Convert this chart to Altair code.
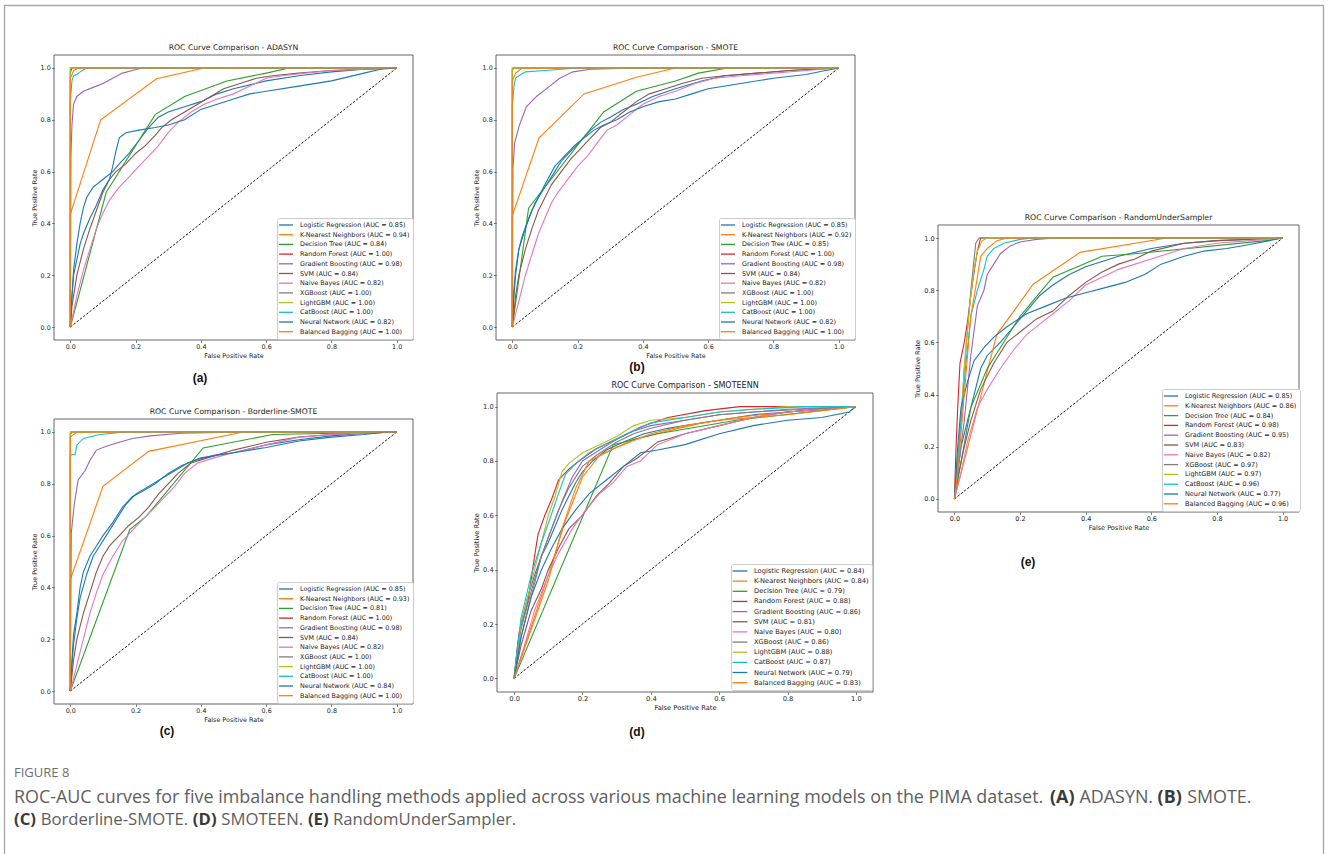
import altair as alt
import pandas as pd

# ---------------- data ----------------
MODELS = ["Logistic Regression", "K-Nearest Neighbors", "Decision Tree", "Random Forest",
          "Gradient Boosting", "SVM", "Naive Bayes", "XGBoost", "LightGBM", "CatBoost",
          "Neural Network", "Balanced Bagging"]
COLORS = ["#1f77b4", "#ff7f0e", "#2ca02c", "#d62728", "#9467bd", "#8c564b",
          "#e377c2", "#7f7f7f", "#bcbd22", "#17becf", "#1f77b4", "#ff7f0e"]

AUC_ADASYN = [0.85, 0.94, 0.84, 1.00, 0.98, 0.84, 0.82, 1.00, 1.00, 1.00, 0.82, 1.00]
AUC_SMOTE = [0.85, 0.92, 0.85, 1.00, 0.98, 0.84, 0.82, 1.00, 1.00, 1.00, 0.82, 1.00]
AUC_BORDER = [0.85, 0.93, 0.81, 1.00, 0.98, 0.84, 0.82, 1.00, 1.00, 1.00, 0.84, 1.00]
AUC_SMOTEENN = [0.84, 0.84, 0.79, 0.88, 0.86, 0.81, 0.80, 0.86, 0.88, 0.87, 0.79, 0.83]
AUC_RUS = [0.85, 0.86, 0.84, 0.98, 0.95, 0.83, 0.82, 0.97, 0.97, 0.96, 0.77, 0.96]

DIAG = [0.0, 1.0]

# (fpr, tpr) points per model, in MODELS order
CURVES_ADASYN = [
    [(0,0),(0.005,0.12),(0.01,0.22),(0.02,0.32),(0.03,0.4),(0.04,0.46),(0.05,0.5),(0.07,0.54),(0.09,0.56),(0.11,0.58),(0.13,0.6),(0.15,0.63),(0.18,0.67),(0.21,0.72),(0.24,0.77),(0.27,0.81),(0.3,0.83),(0.35,0.85),(0.4,0.87),(0.45,0.9),(0.5,0.92),(0.6,0.95),(0.7,0.97),(0.8,0.985),(0.9,0.995),(1,1)],
    [(0,0),(0,0.435),(0.093,0.80),(0.264,0.958),(0.41,1.0),(1,1)],
    [(0,0),(0.11,0.52),(0.26,0.82),(0.35,0.89),(0.48,0.95),(0.6,0.98),(0.67,1.0),(1,1)],
    [(0,0),(0,0.98),(0.005,1.0),(1,1)],
    [(0,0),(0.002,0.66),(0.005,0.78),(0.01,0.86),(0.02,0.89),(0.04,0.91),(0.07,0.925),(0.1,0.94),(0.13,0.96),(0.16,0.98),(0.19,0.99),(0.22,1.0),(1,1)],
    [(0,0),(0.005,0.08),(0.01,0.12),(0.02,0.2),(0.04,0.3),(0.06,0.38),(0.08,0.45),(0.1,0.52),(0.12,0.57),(0.14,0.6),(0.17,0.63),(0.2,0.67),(0.23,0.7),(0.26,0.74),(0.28,0.77),(0.31,0.8),(0.35,0.83),(0.39,0.86),(0.43,0.89),(0.47,0.92),(0.52,0.94),(0.57,0.96),(0.62,0.97),(0.7,0.98),(0.8,0.99),(1,1)],
    [(0,0),(0.01,0.06),(0.02,0.12),(0.04,0.22),(0.06,0.3),(0.08,0.38),(0.1,0.44),(0.12,0.49),(0.15,0.54),(0.18,0.58),(0.21,0.62),(0.24,0.66),(0.27,0.7),(0.3,0.75),(0.33,0.79),(0.37,0.83),(0.41,0.86),(0.45,0.88),(0.5,0.9),(0.55,0.93),(0.6,0.96),(0.65,0.97),(0.72,0.98),(0.8,0.99),(1,1)],
    [(0,0),(0,1.0),(1,1)],
    [(0,0),(0,1.0),(1,1)],
    [(0,0),(0,0.87),(0.005,0.95),(0.01,0.97),(0.02,0.975),(0.03,0.985),(0.05,1.0),(1,1)],
    [(0,0),(0.005,0.12),(0.01,0.2),(0.02,0.26),(0.03,0.32),(0.04,0.36),(0.06,0.42),(0.08,0.47),(0.1,0.53),(0.12,0.57),(0.13,0.62),(0.14,0.68),(0.15,0.73),(0.17,0.75),(0.21,0.76),(0.26,0.77),(0.3,0.78),(0.35,0.8),(0.4,0.84),(0.45,0.86),(0.5,0.88),(0.55,0.9),(0.6,0.91),(0.7,0.93),(0.8,0.95),(0.9,0.98),(0.95,0.995),(1,1)],
    [(0,0),(0,0.96),(0.01,0.99),(0.025,1.0),(1,1)],
]

CURVES_SMOTE = [
    [(0,0),(0.005,0.12),(0.01,0.2),(0.02,0.3),(0.03,0.35),(0.05,0.42),(0.07,0.48),(0.09,0.52),(0.11,0.56),(0.13,0.6),(0.15,0.64),(0.18,0.68),(0.21,0.72),(0.24,0.76),(0.27,0.79),(0.3,0.81),(0.34,0.84),(0.38,0.86),(0.43,0.89),(0.5,0.92),(0.58,0.95),(0.65,0.97),(0.75,0.98),(0.85,0.99),(1,1)],
    [(0,0),(0,0.43),(0.082,0.73),(0.22,0.90),(0.38,0.964),(0.5,1.0),(1,1)],
    [(0,0),(0.05,0.46),(0.28,0.83),(0.38,0.91),(0.5,0.95),(0.57,0.98),(0.66,1.0),(1,1)],
    [(0,0),(0,0.99),(0.004,1.0),(1,1)],
    [(0,0),(0.002,0.61),(0.007,0.71),(0.022,0.78),(0.043,0.85),(0.074,0.89),(0.115,0.93),(0.145,0.96),(0.186,0.985),(0.24,0.995),(0.39,1.0),(1,1)],
    [(0,0),(0.005,0.06),(0.01,0.12),(0.02,0.2),(0.04,0.3),(0.06,0.38),(0.08,0.45),(0.1,0.5),(0.12,0.55),(0.15,0.6),(0.18,0.65),(0.21,0.69),(0.24,0.73),(0.27,0.77),(0.3,0.79),(0.34,0.83),(0.38,0.87),(0.42,0.9),(0.47,0.92),(0.52,0.94),(0.58,0.96),(0.65,0.97),(0.75,0.98),(0.85,0.99),(1,1)],
    [(0,0),(0.01,0.05),(0.02,0.1),(0.04,0.2),(0.06,0.28),(0.08,0.36),(0.1,0.42),(0.12,0.48),(0.14,0.52),(0.17,0.57),(0.2,0.62),(0.23,0.66),(0.26,0.71),(0.29,0.76),(0.32,0.78),(0.36,0.82),(0.4,0.86),(0.45,0.89),(0.5,0.91),(0.56,0.94),(0.62,0.96),(0.7,0.97),(0.8,0.98),(0.9,0.99),(1,1)],
    [(0,0),(0,1.0),(1,1)],
    [(0,0),(0,1.0),(1,1)],
    [(0,0),(0,0.85),(0.005,0.93),(0.01,0.96),(0.02,0.97),(0.04,0.985),(0.1,0.99),(0.2,1.0),(1,1)],
    [(0,0),(0.005,0.15),(0.01,0.22),(0.02,0.3),(0.04,0.38),(0.06,0.45),(0.08,0.5),(0.1,0.55),(0.13,0.62),(0.16,0.66),(0.19,0.7),(0.22,0.73),(0.25,0.76),(0.28,0.78),(0.32,0.8),(0.36,0.83),(0.4,0.85),(0.45,0.87),(0.5,0.88),(0.55,0.9),(0.6,0.92),(0.7,0.94),(0.8,0.96),(0.9,0.975),(0.96,0.99),(1,1)],
    [(0,0),(0,0.95),(0.01,0.98),(0.03,1.0),(1,1)],
]

CURVES_BORDER = [
    [(0,0),(0.005,0.12),(0.01,0.22),(0.02,0.3),(0.03,0.4),(0.04,0.46),(0.06,0.52),(0.08,0.56),(0.1,0.6),(0.13,0.65),(0.16,0.71),(0.19,0.75),(0.22,0.77),(0.26,0.8),(0.3,0.84),(0.34,0.87),(0.38,0.89),(0.44,0.91),(0.5,0.92),(0.6,0.95),(0.7,0.97),(0.8,0.985),(0.9,0.995),(1,1)],
    [(0,0),(0,0.43),(0.1,0.79),(0.24,0.925),(0.53,1.0),(1,1)],
    [(0,0),(0.182,0.623),(0.233,0.675),(0.407,0.938),(0.62,0.99),(1,1)],
    [(0,0),(0,0.99),(0.005,1.0),(1,1)],
    [(0,0),(0.003,0.61),(0.012,0.72),(0.024,0.815),(0.045,0.85),(0.06,0.89),(0.08,0.93),(0.11,0.945),(0.15,0.96),(0.19,0.975),(0.245,0.985),(0.34,0.995),(0.54,1.0),(1,1)],
    [(0,0),(0.005,0.06),(0.01,0.12),(0.02,0.2),(0.04,0.3),(0.06,0.38),(0.08,0.46),(0.1,0.52),(0.12,0.56),(0.15,0.6),(0.18,0.64),(0.21,0.67),(0.24,0.71),(0.27,0.76),(0.3,0.8),(0.33,0.84),(0.37,0.88),(0.42,0.9),(0.5,0.93),(0.6,0.96),(0.7,0.98),(0.8,0.99),(1,1)],
    [(0,0),(0.01,0.05),(0.02,0.1),(0.04,0.2),(0.06,0.3),(0.08,0.38),(0.1,0.45),(0.13,0.52),(0.16,0.58),(0.19,0.62),(0.22,0.66),(0.26,0.71),(0.29,0.75),(0.32,0.79),(0.35,0.84),(0.39,0.88),(0.44,0.9),(0.5,0.92),(0.6,0.95),(0.7,0.98),(0.8,0.99),(1,1)],
    [(0,0),(0,1.0),(1,1)],
    [(0,0),(0,1.0),(1,1)],
    [(0,0),(0,0.91),(0.015,0.915),(0.02,0.95),(0.04,0.975),(0.09,0.99),(0.17,1.0),(1,1)],
    [(0,0),(0.005,0.1),(0.01,0.18),(0.02,0.28),(0.03,0.36),(0.05,0.45),(0.07,0.52),(0.09,0.56),(0.11,0.6),(0.14,0.66),(0.17,0.72),(0.2,0.76),(0.24,0.79),(0.28,0.82),(0.32,0.85),(0.36,0.88),(0.4,0.9),(0.5,0.92),(0.6,0.94),(0.7,0.965),(0.8,0.98),(0.9,0.99),(0.97,1.0),(1,1)],
    [(0,0),(0,0.98),(0.02,1.0),(1,1)],
]

CURVES_SMOTEENN = [
    [(0,0),(0.01,0.12),(0.02,0.2),(0.04,0.3),(0.06,0.38),(0.08,0.45),(0.1,0.5),(0.12,0.56),(0.14,0.62),(0.16,0.67),(0.18,0.72),(0.2,0.76),(0.23,0.8),(0.27,0.84),(0.32,0.87),(0.38,0.9),(0.45,0.92),(0.5,0.93),(0.6,0.95),(0.7,0.97),(0.8,0.98),(0.9,0.99),(1,1)],
    [(0,0),(0.1,0.38),(0.15,0.58),(0.2,0.74),(0.25,0.82),(0.35,0.88),(0.45,0.91),(0.55,0.94),(0.65,0.96),(0.8,0.98),(1,1)],
    [(0,0),(0.29,0.86),(0.42,0.9),(0.65,0.95),(1,1)],
    [(0,0),(0.015,0.17),(0.04,0.28),(0.06,0.45),(0.07,0.53),(0.09,0.6),(0.11,0.66),(0.13,0.73),(0.16,0.77),(0.19,0.8),(0.24,0.845),(0.3,0.88),(0.37,0.925),(0.45,0.96),(0.56,0.985),(0.66,1.0),(1,1)],
    [(0,0),(0.02,0.15),(0.05,0.3),(0.08,0.45),(0.11,0.55),(0.14,0.65),(0.17,0.74),(0.2,0.8),(0.25,0.84),(0.3,0.88),(0.35,0.91),(0.4,0.93),(0.5,0.95),(0.6,0.97),(0.7,0.98),(0.8,0.99),(1,1)],
    [(0,0),(0.02,0.12),(0.05,0.25),(0.08,0.33),(0.1,0.4),(0.13,0.48),(0.16,0.55),(0.2,0.6),(0.24,0.67),(0.28,0.72),(0.32,0.78),(0.36,0.81),(0.42,0.87),(0.5,0.9),(0.6,0.93),(0.7,0.96),(0.8,0.98),(1,1)],
    [(0,0),(0.03,0.12),(0.06,0.25),(0.1,0.38),(0.13,0.46),(0.17,0.55),(0.21,0.62),(0.25,0.68),(0.29,0.72),(0.33,0.78),(0.37,0.8),(0.42,0.86),(0.5,0.9),(0.6,0.93),(0.7,0.96),(0.8,0.98),(1,1)],
    [(0,0),(0.02,0.18),(0.05,0.32),(0.08,0.45),(0.1,0.52),(0.13,0.62),(0.16,0.7),(0.2,0.78),(0.24,0.82),(0.3,0.87),(0.35,0.9),(0.4,0.92),(0.5,0.95),(0.6,0.97),(0.7,0.98),(0.85,0.99),(1,1)],
    [(0,0),(0.02,0.2),(0.05,0.35),(0.08,0.5),(0.1,0.6),(0.12,0.67),(0.14,0.76),(0.16,0.79),(0.2,0.83),(0.25,0.86),(0.3,0.89),(0.35,0.93),(0.4,0.95),(0.5,0.96),(0.6,0.98),(0.7,0.99),(0.8,1.0),(1,1)],
    [(0,0),(0.02,0.22),(0.05,0.38),(0.08,0.5),(0.1,0.57),(0.13,0.68),(0.15,0.75),(0.18,0.79),(0.22,0.83),(0.28,0.87),(0.33,0.9),(0.4,0.94),(0.5,0.96),(0.6,0.98),(0.7,0.99),(0.85,1.0),(1,1)],
    [(0,0),(0.02,0.15),(0.05,0.3),(0.08,0.4),(0.11,0.48),(0.14,0.55),(0.18,0.62),(0.22,0.68),(0.27,0.73),(0.32,0.78),(0.37,0.83),(0.42,0.84),(0.5,0.86),(0.6,0.9),(0.7,0.93),(0.8,0.95),(0.9,0.96),(0.98,0.98),(1,1)],
    [(0,0),(0.05,0.18),(0.1,0.36),(0.14,0.55),(0.18,0.7),(0.22,0.8),(0.3,0.85),(0.4,0.9),(0.5,0.93),(0.6,0.95),(0.8,0.97),(1,1)],
]

CURVES_RUS = [
    [(0,0),(0.01,0.1),(0.02,0.2),(0.04,0.3),(0.06,0.4),(0.08,0.5),(0.1,0.55),(0.14,0.6),(0.18,0.66),(0.22,0.72),(0.26,0.78),(0.3,0.82),(0.35,0.86),(0.4,0.89),(0.5,0.93),(0.6,0.96),(0.7,0.98),(0.8,0.99),(1,1)],
    [(0,0),(0.129,0.63),(0.24,0.823),(0.383,0.945),(0.647,1.0),(1,1)],
    [(0,0),(0.05,0.35),(0.1,0.5),(0.2,0.7),(0.3,0.85),(0.45,0.93),(0.55,0.94),(0.95,0.99),(1,1)],
    [(0,0),(0.005,0.2),(0.01,0.35),(0.017,0.52),(0.03,0.6),(0.04,0.68),(0.05,0.78),(0.06,0.87),(0.07,0.95),(0.08,1.0),(1,1)],
    [(0,0),(0.01,0.1),(0.03,0.3),(0.05,0.55),(0.07,0.74),(0.09,0.8),(0.1,0.86),(0.12,0.9),(0.14,0.94),(0.17,0.97),(0.2,0.985),(0.25,0.995),(0.31,1.0),(1,1)],
    [(0,0),(0.01,0.08),(0.03,0.2),(0.05,0.3),(0.08,0.42),(0.12,0.52),(0.16,0.6),(0.2,0.64),(0.25,0.69),(0.3,0.72),(0.35,0.78),(0.4,0.83),(0.45,0.87),(0.5,0.9),(0.55,0.92),(0.6,0.95),(0.7,0.98),(0.8,0.99),(1,1)],
    [(0,0),(0.02,0.1),(0.04,0.22),(0.07,0.35),(0.1,0.42),(0.14,0.5),(0.18,0.57),(0.22,0.63),(0.26,0.67),(0.3,0.71),(0.35,0.76),(0.4,0.82),(0.45,0.85),(0.5,0.88),(0.6,0.92),(0.7,0.96),(0.8,0.98),(0.9,0.99),(1,1)],
    [(0,0),(0.01,0.15),(0.02,0.3),(0.03,0.5),(0.04,0.65),(0.05,0.8),(0.06,0.92),(0.065,0.98),(0.075,1.0),(1,1)],
    [(0,0),(0.01,0.12),(0.02,0.3),(0.03,0.5),(0.04,0.65),(0.05,0.78),(0.06,0.88),(0.07,0.95),(0.085,0.99),(0.1,1.0),(1,1)],
    [(0,0),(0.01,0.12),(0.02,0.3),(0.035,0.52),(0.05,0.7),(0.07,0.8),(0.09,0.88),(0.1,0.93),(0.12,0.96),(0.15,0.98),(0.2,0.995),(0.24,1.0),(1,1)],
    [(0,0),(0.01,0.2),(0.02,0.35),(0.04,0.45),(0.06,0.53),(0.09,0.58),(0.12,0.62),(0.16,0.66),(0.22,0.71),(0.28,0.74),(0.34,0.77),(0.4,0.79),(0.46,0.81),(0.52,0.83),(0.58,0.86),(0.63,0.9),(0.7,0.93),(0.76,0.95),(0.83,0.96),(0.9,0.975),(0.96,0.99),(1,1)],
    [(0,0),(0.01,0.1),(0.03,0.4),(0.05,0.7),(0.07,0.85),(0.08,0.93),(0.1,0.96),(0.13,0.99),(0.16,1.0),(1,1)],
]

TITLES = ["ROC Curve Comparison - ADASYN", "ROC Curve Comparison - SMOTE",
          "ROC Curve Comparison - Borderline-SMOTE", "ROC Curve Comparison - SMOTEENN",
          "ROC Curve Comparison - RandomUnderSampler"]
PANEL_TAGS = ["(a)", "(b)", "(c)", "(d)", "(e)"]
TICKS = [0.0, 0.2, 0.4, 0.6, 0.8, 1.0]
XD = [-0.05, 1.05]
YD = [-0.05, 1.05]

CAPTION_HEAD = "FIGURE 8"
CAPTION_LINE1 = [("ROC-AUC curves for five imbalance handling methods applied across various machine learning models on the PIMA dataset.", False),
                 ("(A)", True), ("ADASYN.", False), ("(B)", True), ("SMOTE.", False)]
CAPTION_LINE2 = [("(C)", True), ("Borderline-SMOTE.", False), ("(D)", True), ("SMOTEEN.", False),
                 ("(E)", True), ("RandomUnderSampler.", False)]

# ---------------- layout (pixels) ----------------
W, H = 1328, 854
FONT = "DejaVu Sans"
GEO = [
    dict(x0=54, x1=413, y0=55, y1=340, fs=6.4, tfs=7.7, lx=277, ly=218, pitch=9.7, tag=(200, 378)),
    dict(x0=496, x1=855, y0=55, y1=340, fs=6.4, tfs=7.7, lx=719, ly=218, pitch=9.7, tag=(637, 367)),
    dict(x0=54, x1=413, y0=419, y1=704, fs=6.4, tfs=7.7, lx=277, ly=582, pitch=9.7, tag=(167, 731)),
    dict(x0=497, x1=873, y0=393, y1=692, fs=6.7, tfs=8.0, lx=731, ly=564, pitch=10.15, tag=(637, 732)),
    dict(x0=938, x1=1299, y0=225, y1=512, fs=6.5, tfs=7.8, lx=1162, ly=389, pitch=9.8, tag=(1028, 562)),
]

PANELS = [(CURVES_ADASYN, AUC_ADASYN), (CURVES_SMOTE, AUC_SMOTE), (CURVES_BORDER, AUC_BORDER),
          (CURVES_SMOTEENN, AUC_SMOTEENN), (CURVES_RUS, AUC_RUS)]


def panel_layers(curves, aucs, g):
    labels = [f"{m} (AUC = {a:.2f})" for m, a in zip(MODELS, aucs)]
    rows = []
    for k, (lab, pts) in enumerate(zip(labels, curves)):
        for i, (x, y) in enumerate(pts):
            rows.append(dict(label=lab, fpr=x, tpr=y, i=i))
    df = pd.DataFrame(rows)
    xs = alt.Scale(domain=XD, range=[g["x0"], g["x1"]], nice=False, zero=False)
    ys = alt.Scale(domain=YD, range=[g["y1"], g["y0"]], nice=False, zero=False)
    fs = g["fs"]
    common = dict(values=TICKS, format=".1f", grid=False, domain=False, tickSize=2.3, tickWidth=0.7,
                  tickColor="#333333", labelFontSize=fs, titleFontSize=fs, labelFont=FONT, titleFont=FONT,
                  titleFontWeight="normal", labelColor="#222222", titleColor="#222222",
                  labelFlush=False, labelOverlap=False)
    xaxis = alt.Axis(orient="bottom", offset=g["y1"] - H, title="False Positive Rate",
                     labelPadding=1.5, titlePadding=2, **common)
    yaxis = alt.Axis(orient="left", offset=-g["x0"], title="True Positive Rate",
                     labelPadding=1.5, titlePadding=3, **common)
    legend = alt.Legend(orient="none", legendX=g["lx"], legendY=g["ly"], title=None,
                        fillColor="white", strokeColor="#cccccc", cornerRadius=2, padding=3,
                        symbolType="M-2.2,0H2.2", symbolSize=(fs ** 2), symbolStrokeWidth=1.3,
                        symbolOffset=2, labelOffset=10, rowPadding=g["pitch"] - 8,
                        labelFont=FONT, labelFontSize=fs, labelColor="#222222", labelLimit=300)

    frame_df = pd.DataFrame([dict(a=XD[0], b=XD[1], c=YD[0], d=YD[1])])
    frame = alt.Chart(frame_df).mark_rect(fill="transparent", stroke="#555555", strokeWidth=0.9).encode(
        x=alt.X("a:Q", scale=xs, axis=None), x2="b:Q",
        y=alt.Y("c:Q", scale=ys, axis=None), y2="d:Q")

    lines = alt.Chart(df).mark_line(strokeWidth=1.1).encode(
        x=alt.X("fpr:Q", scale=xs, axis=xaxis),
        y=alt.Y("tpr:Q", scale=ys, axis=yaxis),
        color=alt.Color("label:N", scale=alt.Scale(domain=labels, range=COLORS), legend=legend),
        order=alt.Order("i:Q"))

    diag_df = pd.DataFrame(dict(fpr=DIAG, tpr=DIAG))
    diag = alt.Chart(diag_df).mark_line(color="black", strokeDash=[2.5, 1.6], strokeWidth=0.9).encode(
        x=alt.X("fpr:Q", scale=xs, axis=None), y=alt.Y("tpr:Q", scale=ys, axis=None))
    return [frame, diag, lines]


layers = []
outer = alt.Chart(pd.DataFrame([dict(v=1)])).mark_rect(fill="transparent", stroke="#a8a8a8", strokeWidth=1.4).encode(
    x=alt.value(4.5), x2=alt.value(1323.5), y=alt.value(5.5), y2=alt.value(900))
layers.append(outer)

for (curves, aucs), g in zip(PANELS, GEO):
    layers.extend(panel_layers(curves, aucs, g))

# panel titles and tags
title_df = pd.DataFrame([dict(px=(g["x0"] + g["x1"]) / 2, py=g["y0"] - 3.2, text=t, fs=g["tfs"])
                         for g, t in zip(GEO, TITLES)])
titles = alt.Chart(title_df).mark_text(font=FONT, baseline="bottom", align="center", color="#222222").encode(
    x=alt.X("px:Q", scale=None, axis=None), y=alt.Y("py:Q", scale=None, axis=None),
    text="text:N", size=alt.Size("fs:Q", scale=None, legend=None))
layers.append(titles)

tag_df = pd.DataFrame([dict(px=g["tag"][0], py=g["tag"][1], text=t) for g, t in zip(GEO, PANEL_TAGS)])
tags = alt.Chart(tag_df).mark_text(font="Liberation Sans", fontWeight="bold", fontSize=12,
                                   baseline="middle", align="center", color="#111111").encode(
    x=alt.X("px:Q", scale=None, axis=None), y=alt.Y("py:Q", scale=None, axis=None), text="text:N")
layers.append(tags)

# caption: rough Open Sans advance widths (em)
REG = {" ": .26, "(": .296, ")": .296, "-": .322, ".": .266, "A": .633, "B": .648, "C": .631, "D": .729,
       "E": .556, "F": .516, "G": .728, "I": .279, "M": .903, "N": .76, "O": .781, "P": .615, "R": .618,
       "S": .549, "T": .556, "U": .738, "Y": .535, "a": .556, "b": .613, "c": .476, "d": .613, "e": .561,
       "f": .339, "g": .548, "h": .614, "i": .253, "l": .253, "m": .93, "n": .614, "o": .604, "p": .613,
       "r": .408, "s": .477, "t": .353, "u": .614, "v": .501, "y": .501}
BOLD = {"(": .339, ")": .339, "A": .707, "B": .712, "C": .657, "D": .762, "E": .568}


def text_w(s, bold, f):
    tab = BOLD if bold else REG
    return sum(tab.get(ch, REG.get(ch, .55)) for ch in s) * f


CAP_FONT = "Open Sans"
CAP_X0 = 14
cap_rows = []
for segs, py, f in [(CAPTION_LINE1, 798, 17.9), (CAPTION_LINE2, 820, 16.7)]:
    x = CAP_X0
    for s, b in segs:
        cap_rows.append(dict(px=x, py=py, text=s, bold=b, fs=f))
        x += text_w(s, b, f) + REG[" "] * f
cap_df = pd.DataFrame(cap_rows)
cap_reg = alt.Chart(cap_df[~cap_df.bold]).mark_text(font=CAP_FONT, baseline="middle", align="left",
                                                     color="#5e5e5e").encode(
    x=alt.X("px:Q", scale=None, axis=None), y=alt.Y("py:Q", scale=None, axis=None),
    text="text:N", size=alt.Size("fs:Q", scale=None, legend=None))
cap_bold = alt.Chart(cap_df[cap_df.bold]).mark_text(font=CAP_FONT, fontWeight="bold", baseline="middle",
                                                     align="left", color="#3a3a3a").encode(
    x=alt.X("px:Q", scale=None, axis=None), y=alt.Y("py:Q", scale=None, axis=None),
    text="text:N", size=alt.Size("fs:Q", scale=None, legend=None))
head = alt.Chart(pd.DataFrame([dict(px=CAP_X0, py=773, text=CAPTION_HEAD)])).mark_text(
    font=CAP_FONT, fontSize=13, baseline="middle", align="left", color="#6e6e6e").encode(
    x=alt.X("px:Q", scale=None, axis=None), y=alt.Y("py:Q", scale=None, axis=None), text="text:N")
layers.extend([cap_reg, cap_bold, head])

chart = alt.layer(*layers).resolve_scale(
    x="independent", y="independent", color="independent", size="independent"
).resolve_legend(color="independent").properties(
    width=W, height=H, padding=0, autosize=alt.AutoSizeParams(type="none"), background="white"
).configure_view(stroke=None)

chart.save("out.html", embed_options={"renderer": "svg", "actions": False})
